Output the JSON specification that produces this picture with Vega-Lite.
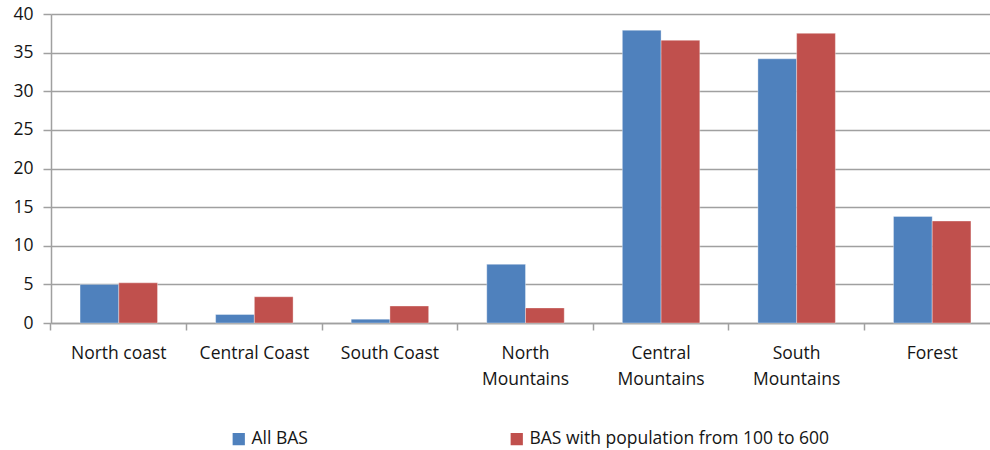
{
  "$schema": "https://vega.github.io/schema/vega-lite/v6.json",
  "autosize": {"type": "none"},
  "width": 949,
  "height": 309,
  "padding": {"left": 51, "top": 14, "right": -10, "bottom": 127},
  "background": "white",
  "config": {
    "view": {"stroke": null},
    "font": "Open Sans",
    "axis": {
      "labelFont": "Open Sans",
      "labelFontSize": 17.5,
      "labelColor": "#151515",
      "domainColor": "#a0a0a0",
      "domainWidth": 1.5,
      "tickColor": "#a0a0a0",
      "tickWidth": 1.5,
      "gridColor": "#a0a0a0",
      "gridWidth": 1.5,
      "title": null
    },
    "legend": {"labelFont": "Open Sans", "labelFontSize": 17.5, "labelColor": "#151515", "labelLimit": 0}
  },
  "data": {
    "values": [
      {"region": "North coast", "series": "All BAS", "value": 5.0},
      {"region": "North coast", "series": "BAS with population from 100 to 600", "value": 5.2},
      {"region": "Central Coast", "series": "All BAS", "value": 1.1},
      {"region": "Central Coast", "series": "BAS with population from 100 to 600", "value": 3.4},
      {"region": "South Coast", "series": "All BAS", "value": 0.5},
      {"region": "South Coast", "series": "BAS with population from 100 to 600", "value": 2.2},
      {"region": "North Mountains", "series": "All BAS", "value": 7.6},
      {"region": "North Mountains", "series": "BAS with population from 100 to 600", "value": 1.95},
      {"region": "Central Mountains", "series": "All BAS", "value": 37.9},
      {"region": "Central Mountains", "series": "BAS with population from 100 to 600", "value": 36.6},
      {"region": "South Mountains", "series": "All BAS", "value": 34.2},
      {"region": "South Mountains", "series": "BAS with population from 100 to 600", "value": 37.5},
      {"region": "Forest", "series": "All BAS", "value": 13.8},
      {"region": "Forest", "series": "BAS with population from 100 to 600", "value": 13.2}
    ]
  },
  "mark": {"type": "bar", "stroke": "white", "strokeWidth": 1, "strokeOpacity": 0.35},
  "encoding": {
    "x": {
      "field": "region",
      "type": "nominal",
      "sort": ["North coast", "Central Coast", "South Coast", "North Mountains", "Central Mountains", "South Mountains", "Forest"],
      "scale": {"paddingInner": 0, "paddingOuter": 0},
      "axis": {
        "labelAngle": 0,
        "bandPosition": 0,
        "tickSize": 7,
        "labelPadding": 14,
        "labelLineHeight": 26,
        "labelExpr": "indexof(datum.label, 'Mountains') > 0 ? split(datum.label, ' ') : datum.label",
        "grid": false
      }
    },
    "xOffset": {
      "field": "series",
      "type": "nominal",
      "scale": {"paddingInner": 0, "paddingOuter": 0.75}
    },
    "y": {
      "field": "value",
      "type": "quantitative",
      "scale": {"domain": [0, 40], "nice": false},
      "axis": {
        "values": [0, 5, 10, 15, 20, 25, 30, 35, 40],
        "tickSize": 8,
        "labelPadding": 10,
        "grid": true
      }
    },
    "color": {
      "field": "series",
      "type": "nominal",
      "scale": {"domain": ["All BAS", "BAS with population from 100 to 600"], "range": ["#4F81BD", "#C0504D"]},
      "legend": {
        "title": null,
        "orient": "none",
        "direction": "horizontal",
        "legendX": 179,
        "legendY": 416,
        "padding": 0,
        "symbolType": "square",
        "symbolSize": 150,
        "symbolStrokeWidth": 0,
        "symbolOpacity": 1,
        "labelOffset": 4,
        "columnPadding": 200
      }
    }
  }
}
